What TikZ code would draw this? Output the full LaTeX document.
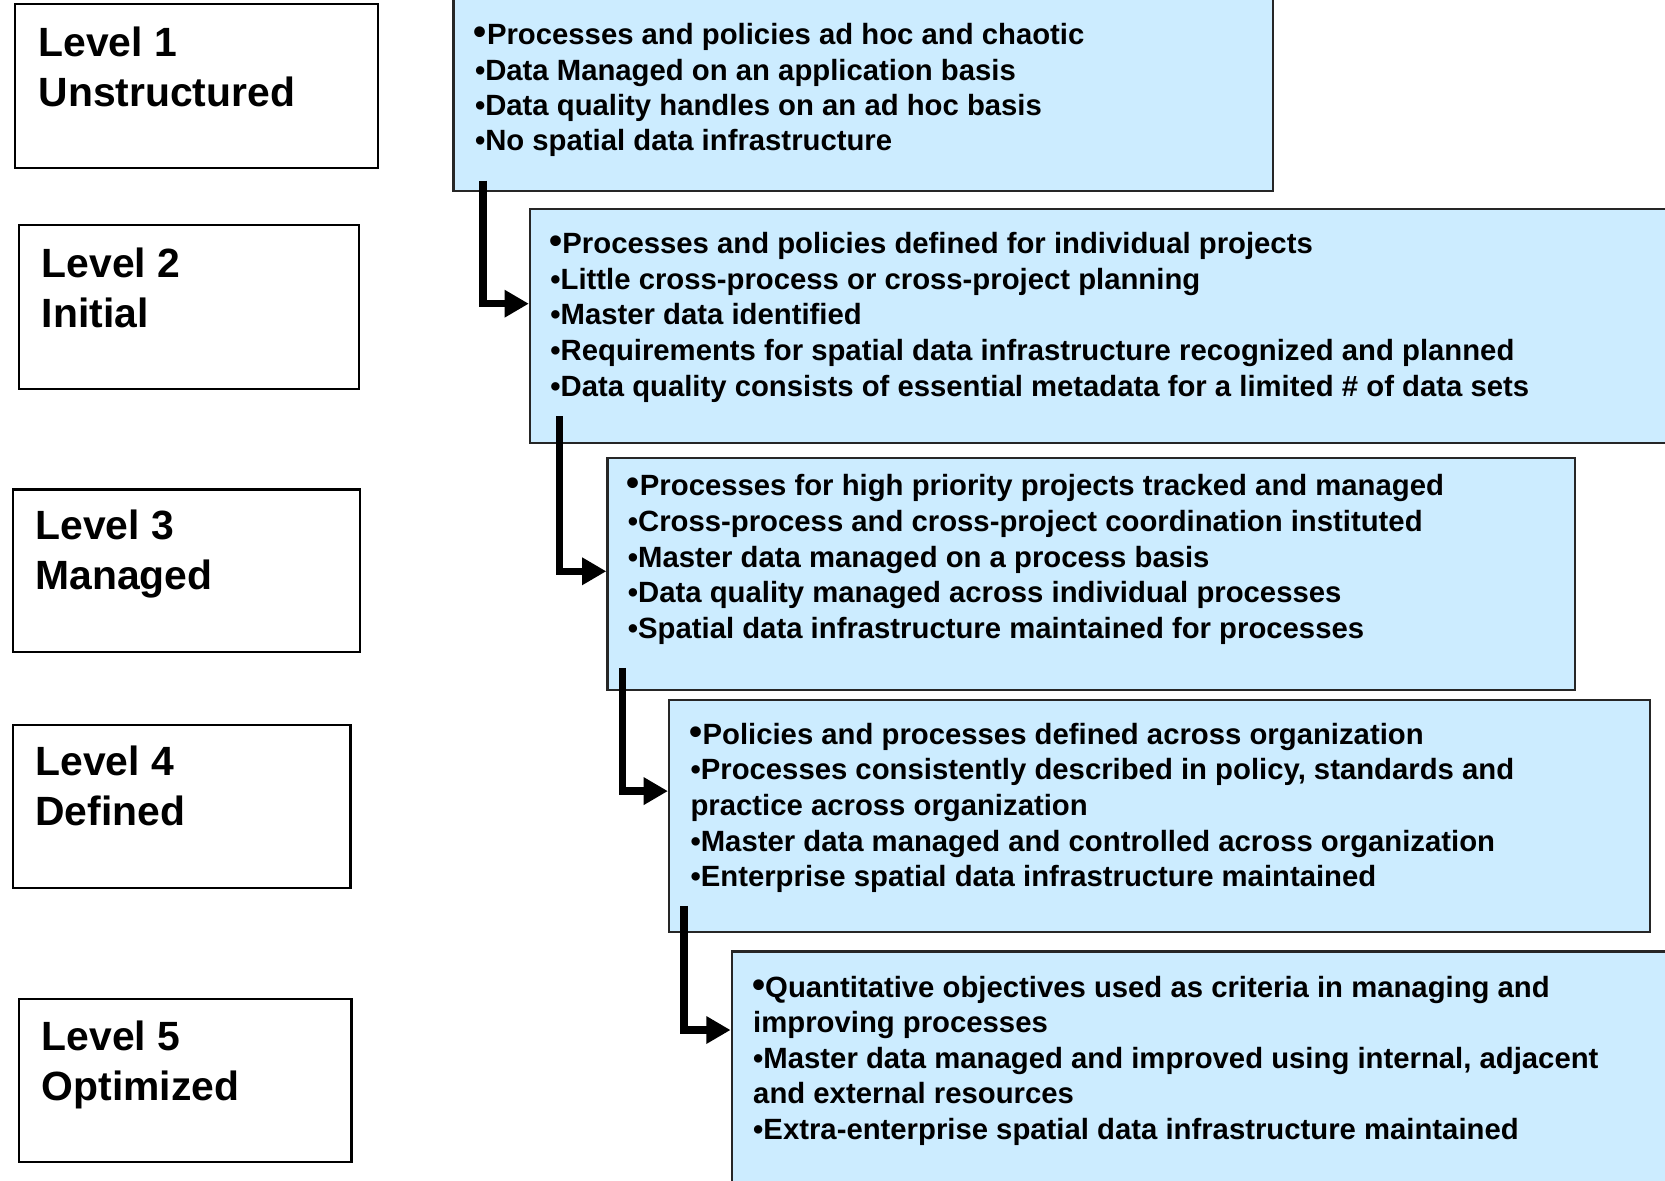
\documentclass[tikz,border=0pt]{standalone}
\usepackage{fontspec}
\setmainfont{Liberation Sans}
\usetikzlibrary{arrows.meta}
\definecolor{paleblue}{HTML}{CCECFF}
\newcommand{\firstdot}{{\fontsize{20}{19}\selectfont •}}
\tikzset{
  levelbox/.style={draw=black, line width=1.2pt, anchor=north west, inner sep=0pt},
  stagebox/.style={draw=black!85, fill=paleblue, line width=1.2pt, anchor=north west, inner sep=0pt},
  levellabel/.style={anchor=base west, inner sep=0pt, font=\bfseries\fontsize{21.9}{26.5}\selectfont},
  item/.style={anchor=base west, inner sep=0pt, font=\bfseries\fontsize{15.7}{19}\selectfont},
  flow/.style={line width=4pt, -{Triangle[length=13pt,width=14pt]}},
}
\begin{document}
\begin{tikzpicture}[x=0.02cm, y=-0.02cm]
    \useasboundingbox (0,0) rectangle (1568,1112);
    \clip (0,0) rectangle (1568,1112);
    % level boxes
    \node[levelbox, minimum width=6.84cm, minimum height=3.08cm] (lv1) at (13,3) {};
    \node[levelbox, minimum width=6.40cm, minimum height=3.08cm] (lv2) at (17,211) {};
    \node[levelbox, minimum width=6.54cm, minimum height=3.06cm] (lv3) at (11,460) {};
    \node[levelbox, minimum width=6.36cm, minimum height=3.06cm] (lv4) at (11,682) {};
    \node[levelbox, minimum width=6.26cm, minimum height=3.06cm] (lv5) at (17,940) {};
    \node[levellabel] (lv1a) at (36,53) {Level 1};
    \node[levellabel] (lv1b) at (36,100) {Unstructured};
    \node[levellabel] (lv2a) at (39,261) {Level 2};
    \node[levellabel] (lv2b) at (39,308) {Initial};
    \node[levellabel] (lv3a) at (33,508) {Level 3};
    \node[levellabel] (lv3b) at (33,555) {Managed};
    \node[levellabel] (lv4a) at (33,730) {Level 4};
    \node[levellabel] (lv4b) at (33,777) {Defined};
    \node[levellabel] (lv5a) at (39,989) {Level 5};
    \node[levellabel] (lv5b) at (39,1036) {Optimized};
    % stage boxes
    \node[stagebox, minimum width=15.44cm, minimum height=3.98cm] (st1) at (426,-20) {};
    \node[stagebox, minimum width=21.84cm, minimum height=4.40cm] (st2) at (498,196) {};
    \node[stagebox, minimum width=18.22cm, minimum height=4.38cm] (st3) at (571,430) {};
    \node[stagebox, minimum width=18.48cm, minimum height=4.38cm] (st4) at (629,658) {};
    \node[stagebox, minimum width=18.04cm, minimum height=4.70cm] (st5) at (688,895) {};
    % stage 1
    \node[item] (st1a) at (446,42) {\firstdot Processes and policies ad hoc and chaotic};
    \node[item] (st1b) at (447,75.5) {•Data Managed on an application basis};
    \node[item] (st1c) at (447,109) {•Data quality handles on an ad hoc basis};
    \node[item] (st1d) at (447,142) {•No spatial data infrastructure};
    % stage 2
    \node[item] (st2a) at (517,239) {\firstdot Processes and policies defined for individual projects};
    \node[item] (st2b) at (518,272.5) {•Little cross-process or cross-project planning};
    \node[item] (st2c) at (518,306) {•Master data identified};
    \node[item] (st2d) at (518,339.5) {•Requirements for spatial data infrastructure recognized and planned};
    \node[item] (st2e) at (518,373) {•Data quality consists of essential metadata for a limited \# of data sets};
    % stage 3
    \node[item] (st3a) at (590,467) {\firstdot Processes for high priority projects tracked and managed};
    \node[item] (st3b) at (591,500.5) {•Cross-process and cross-project coordination instituted};
    \node[item] (st3c) at (591,534) {•Master data managed on a process basis};
    \node[item] (st3d) at (591,567.5) {•Data quality managed across individual processes};
    \node[item] (st3e) at (591,601) {•Spatial data infrastructure maintained for processes};
    % stage 4
    \node[item] (st4a) at (649,701) {\firstdot Policies and processes defined across organization};
    \node[item] (st4b) at (650,734.5) {•Processes consistently described in policy, standards and};
    \node[item] (st4c) at (650,768) {practice across organization};
    \node[item] (st4d) at (650,801.5) {•Master data managed and controlled across organization};
    \node[item] (st4e) at (650,835) {•Enterprise spatial data infrastructure maintained};
    % stage 5
    \node[item] (st5a) at (708,939) {\firstdot Quantitative objectives used as criteria in managing and};
    \node[item] (st5b) at (709,972.5) {improving processes};
    \node[item] (st5c) at (709,1006) {•Master data managed and improved using internal, adjacent};
    \node[item] (st5d) at (709,1039.5) {and external resources};
    \node[item] (st5e) at (709,1073) {•Extra-enterprise spatial data infrastructure maintained};
    % connectors
    \draw[flow] ([shift={(29,-11)}]st1.south west) |- ([shift={(0,90)}]st2.north west);
    \draw[flow] ([shift={(29,-26)}]st2.south west) |- ([shift={(0,108)}]st3.north west);
    \draw[flow] ([shift={(15,-22)}]st3.south west) |- ([shift={(0,87)}]st4.north west);
    \draw[flow] ([shift={(15,-26)}]st4.south west) |- ([shift={(0,75)}]st5.north west);
\end{tikzpicture}
\end{document}
